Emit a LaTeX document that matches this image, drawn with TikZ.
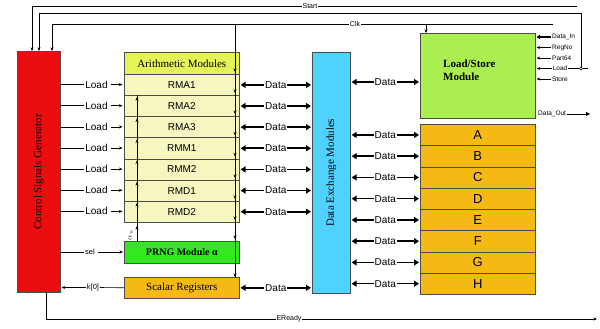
\documentclass[tikz,border=0pt]{standalone}
\usepackage{fontspec}
\setmainfont{Liberation Serif}
\setsansfont{Liberation Sans}
\usetikzlibrary{arrows.meta}
\definecolor{csgred}{RGB}{236,14,14}
\definecolor{ahead}{RGB}{228,244,88}
\definecolor{rowc}{RGB}{246,246,192}
\definecolor{prngg}{RGB}{52,232,32}
\definecolor{orng}{RGB}{245,185,20}
\definecolor{demc}{RGB}{80,210,255}
\definecolor{lsg}{RGB}{170,238,80}
\begin{document}
\begin{tikzpicture}[x=1pt,y=-1pt,
  blk/.style={draw=black!70, line width=0.6pt, inner sep=0pt, anchor=north west},
  wire/.style={line width=0.6pt},
  sarr/.style={-{Stealth[length=3.5pt,width=3pt]}},
  bus/.style={line width=1.6pt,{Triangle[length=5pt,width=6pt]}-{Triangle[length=5pt,width=6pt]},shorten <=1pt,shorten >=1pt},
  lbl/.style={font=\sffamily\fontsize{10}{10}\selectfont, inner sep=1pt},
  dlbl/.style={font=\sffamily\fontsize{10}{10}\selectfont, inner sep=0.8pt, fill=white},
  sml/.style={font=\sffamily\fontsize{7}{7}\selectfont, inner sep=1pt, fill=white},
  tiny/.style={font=\sffamily\fontsize{6.5}{6.5}\selectfont, inner sep=1pt},
  ser/.style={font=\rmfamily\fontsize{11}{11}\selectfont},
]
\useasboundingbox (0,0) rectangle (600,329);

% main blocks
\node[blk, fill=csgred, minimum width=43pt, minimum height=241pt] (csg) at (17,51) {};
\node[ser, rotate=90] (csgt) at (csg.center) {Control Signals Generator};

\node[blk, fill=ahead, minimum width=115pt, minimum height=22pt, ser] (ah) at (124,52) {Arithmetic Modules};

\node[blk, fill=prngg, minimum width=115pt, minimum height=22pt, font=\rmfamily\bfseries\fontsize{10}{10}\selectfont] (prng) at (124,241) {PRNG Module α};
\node[blk, fill=orng, minimum width=115pt, minimum height=21pt, ser] (sc) at (124,277) {Scalar Registers};

\node[blk, fill=demc, minimum width=38pt, minimum height=241pt] (dem) at (312,52) {};
\node[ser, rotate=90] (demt) at (dem.center) {Data Exchange Modules};

\node[blk, fill=lsg, minimum width=115pt, minimum height=85pt] (ls) at (420,33) {};
\node[anchor=west, align=left, inner sep=0pt, font=\rmfamily\bfseries\fontsize{11}{13}\selectfont] (lst) at (443,70.5) {Load/Store\\Module};

% arithmetic rows with Load inputs and Data buses
\foreach \n [count=\i] in {RMA1,RMA2,RMA3,RMM1,RMM2,RMD1,RMD2} {
  \node[blk, fill=rowc, minimum width=115pt, minimum height=21.14pt, font=\sffamily\fontsize{10}{10}\selectfont] (r\i) at (124,{74+21.14*(\i-1)}) {\n};
  \node[lbl] (ld\i) at (96.5,{74+21.14*(\i-0.5)}) {Load};
  \draw[wire] (csg.east |- ld\i) -- (ld\i.west);
  \draw[wire,sarr,shorten <=2pt,shorten >=1.5pt] (ld\i.east) -- (ld\i.east -| r\i.west);
  \draw[bus] (r\i.east) -- (r\i.east -| dem.west) node[midway, dlbl] (dl\i) {Data};
}

% registers A-H
\foreach \n [count=\i] in {A,B,C,D,E,F,G,H} {
  \node[blk, fill=orng, minimum width=115pt, minimum height=21.25pt, font=\sffamily\fontsize{13}{13}\selectfont] (g\i) at (420,{124+21.25*(\i-1)}) {\n};
  \draw[bus] (g\i.west -| dem.east) -- (g\i.west) node[midway, dlbl] (dg\i) {Data};
}

% scalar registers data bus
\draw[bus] (sc.east) -- (sc.east -| dem.west) node[midway, dlbl] (dsc) {Data};
% load/store data bus
\coordinate (lsd) at (420,82);
\draw[bus] (lsd -| dem.east) -- (lsd) node[midway, dlbl] (dls) {Data};

% sel and k[0]
\node[font=\sffamily\fontsize{7.5}{7.5}\selectfont, inner sep=1pt] (sel) at (90,252) {sel};
\draw[wire] (csg.east |- sel) -- (sel.west);
\draw[wire,sarr,shorten <=2pt,shorten >=1pt] (sel.east) -- (sel.east -| prng.west);
\node[font=\sffamily\fontsize{7.5}{7.5}\selectfont, inner sep=1pt] (k0) at (93,287.5) {k[0]};
\draw[wire] (sc.west) -- (k0.east);
\draw[wire,sarr,shorten >=1pt] (k0.west) -- (k0.west -| csg.east);

% upward bus inside arithmetic modules (from PRNG)
\coordinate (upb) at (137,241);
\draw[wire] (upb) -- (137,95.5);
\foreach \y in {97,118.5,139.5,160.5,182,203,226} {
  \draw[wire,sarr] (137,\y+6) -- (137,\y);
}
\node[rotate=90, inner sep=0pt, font=\fontsize{7}{7}\selectfont] (alph) at (130.5,235) {$\alpha_n$};

% downward bus from Clk
\coordinate (dnb) at (235,24);
\draw[wire] (dnb) -- (dnb |- sc.north);
\foreach \y in {72,93,114,135.5,156.5,178,199,220,239,277} {
  \draw[wire,sarr] (235,\y-6) -- (235,\y);
}

% Start line
\coordinate (stR) at (577,6);
\coordinate (stL) at (32,6);
\draw[wire,sarr] (stR) -- (stL) -- (stL |- csg.north);
\node[sml] (stt) at (310,6) {Start};

% Load line to Load/Store
\node[tiny] (lsl4) at (560,68.5) {Load};
\node[circle, draw, fill=white, line width=0.5pt, inner sep=0pt, minimum size=3pt] (ldc) at (581,68.5) {};
\coordinate (ldL) at (39,13);
\coordinate (ldE) at (588,68.5);
\draw[wire,sarr] (ldc.north) |- (ldL) -- (ldL |- csg.north);
\draw[wire] (lsl4.east) -- (ldc.west);
\draw[wire] (ldc.east) -- (ldE);

% Clk line
\coordinate (ckR) at (553,24);
\coordinate (ckL) at (52,24);
\coordinate (ckLS) at (426,24);
\draw[wire,sarr] (ckR) -- (ckL) -- (ckL |- csg.north);
\draw[wire,sarr] (ckLS) -- (ckLS |- ls.north);
\node[sml] (ckt) at (355,24) {Clk};

% EReady
\coordinate (erL) at (46,319);
\coordinate (erR) at (597,319);
\draw[wire,sarr] (erL |- csg.south) -- (erL) -- (erR);
\node[sml] (ert) at (289,319) {EReady};

% Load/Store inputs
\node[tiny, anchor=west] (lsl1) at (551,37) {Data\_In};
\node[tiny, anchor=west] (lsl2) at (551,47.5) {RegNo};
\node[tiny, anchor=west] (lsl3) at (551,58) {Part64};
\node[tiny, anchor=west] (lsl5) at (551,79) {Store};
\draw[line width=1.4pt,-{Triangle[length=3.5pt,width=4.5pt]},shorten >=1pt] (lsl1.west) -- (lsl1.west -| ls.east);
\foreach \k in {2,3,4,5} {
  \draw[wire,sarr,shorten >=1pt] (lsl\k.west) -- (lsl\k.west -| ls.east);
}
\node[tiny, anchor=west] (dout) at (537,114) {Data\_Out};
\coordinate (doutE) at (590,114);
\draw[line width=0.9pt,-{Triangle[length=4pt,width=4pt]}] (dout.east) -- (doutE);
\end{tikzpicture}
\end{document}
